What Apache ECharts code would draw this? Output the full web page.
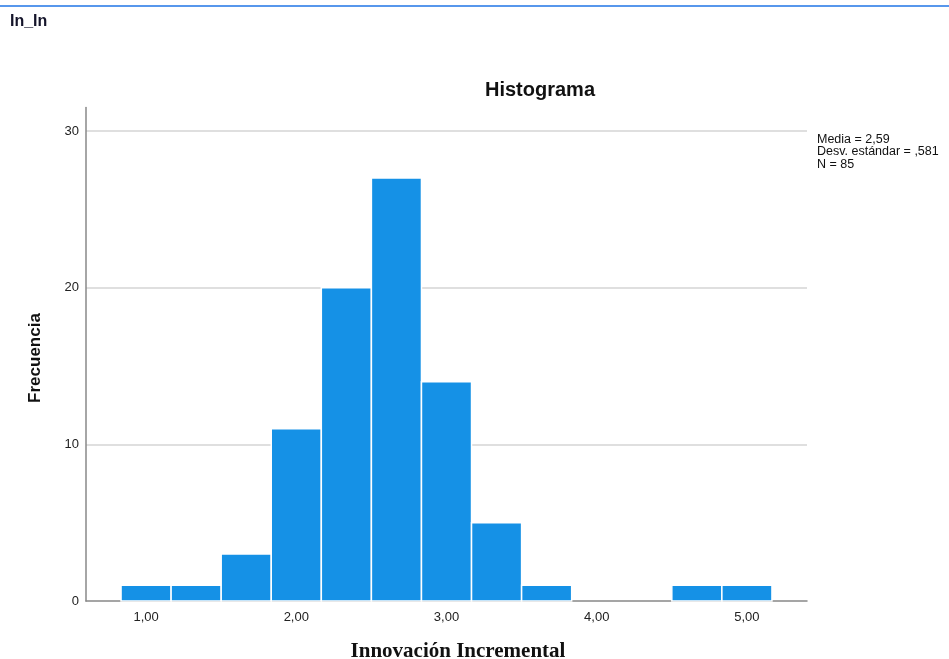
<!DOCTYPE html>
<html><head><meta charset="utf-8">
<script src="https://cdn.jsdelivr.net/npm/echarts@6/dist/echarts.min.js"></script>
<style>html,body{margin:0;padding:0;background:#fff}#c{width:949px;height:659px}</style>
</head><body><div id="c"></div>
<script>
const binCenters = [1.0, 1.3333, 1.6667, 2.0, 2.3333, 2.6667, 3.0, 3.3333, 3.6667, 4.0, 4.3333, 4.6667, 5.0];
const counts = [1, 1, 3, 11, 20, 27, 14, 5, 1, 0, 0, 1, 1];
const binWidth = 1/3;
const xTicks = [1, 2, 3, 4, 5];
const yTicks = [0, 10, 20, 30];
const statsLines = ['Media = 2,59', 'Desv. estándar = ,581', 'N = 85'];

const chart = echarts.init(document.getElementById('c'));
const data = binCenters.map((c, i) => [c, counts[i]]);
const labelFont = {color: '#222', fontSize: 13, fontFamily: '"Liberation Sans", Arial'};
chart.setOption({
  animation: false,
  grid: {left: 86, right: 142, top: 107.5, bottom: 58},
  xAxis: {
    type: 'value', min: 0.6, max: 5.4,
    axisLine: {show: true, lineStyle: {color: '#888', width: 1.5}},
    axisTick: {show: false},
    splitLine: {show: false},
    axisLabel: Object.assign({customValues: xTicks, formatter: v => v.toFixed(2).replace('.', ','), margin: 10}, labelFont)
  },
  yAxis: {
    type: 'value', min: 0, max: 31.5, interval: 10,
    axisLine: {show: true, lineStyle: {color: '#888', width: 1.5}},
    axisTick: {show: false},
    splitLine: {show: true, showMaxLine: false, showMinLine: false, lineStyle: {color: '#d4d4d4', width: 1.5}},
    axisLabel: Object.assign({formatter: v => (yTicks.indexOf(v) >= 0 ? String(v) : ''), margin: 7}, labelFont)
  },
  series: [{
    type: 'custom',
    data: data,
    renderItem: function (params, api) {
      const c = api.value(0), v = api.value(1);
      if (!v) return;
      const p0 = api.coord([c - binWidth/2, v]);
      const p1 = api.coord([c + binWidth/2, 0]);
      return {
        type: 'rect',
        shape: {x: p0[0], y: p0[1], width: p1[0] - p0[0], height: p1[1] - p0[1]},
        style: {fill: '#1591e6', stroke: '#ffffff', lineWidth: 1.5}
      };
    }
  }],
  graphic: [
    {type: 'line', shape: {x1: 0, y1: 6, x2: 949, y2: 6}, style: {stroke: '#1f74e6', lineWidth: 1.5}},
    {type: 'text', x: 10, y: 22, style: {text: 'In_In', font: 'bold 16px "Liberation Sans", Arial', fill: '#14142a', verticalAlign: 'middle'}},
    {type: 'text', x: 540, y: 90, style: {text: 'Histograma', font: 'bold 20px "Liberation Sans", Arial', fill: '#111', align: 'center', verticalAlign: 'middle'}},
    {type: 'text', x: 817, y: 139.5, style: {text: statsLines[0], font: '12.5px "Liberation Sans", Arial', fill: '#111', verticalAlign: 'middle'}},
    {type: 'text', x: 817, y: 152, style: {text: statsLines[1], font: '12.5px "Liberation Sans", Arial', fill: '#111', verticalAlign: 'middle'}},
    {type: 'text', x: 817, y: 164.5, style: {text: statsLines[2], font: '12.5px "Liberation Sans", Arial', fill: '#111', verticalAlign: 'middle'}},
    {type: 'text', x: 458, y: 652, style: {text: 'Innovación Incremental', font: 'bold 21px "Liberation Serif", "Times New Roman"', fill: '#111', align: 'center', verticalAlign: 'middle'}},
    {type: 'text', x: 35, y: 358, rotation: Math.PI/2, style: {text: 'Frecuencia', font: 'bold 17px "Liberation Sans", Arial', fill: '#111', align: 'center', verticalAlign: 'middle'}}
  ]
});
</script></body></html>
